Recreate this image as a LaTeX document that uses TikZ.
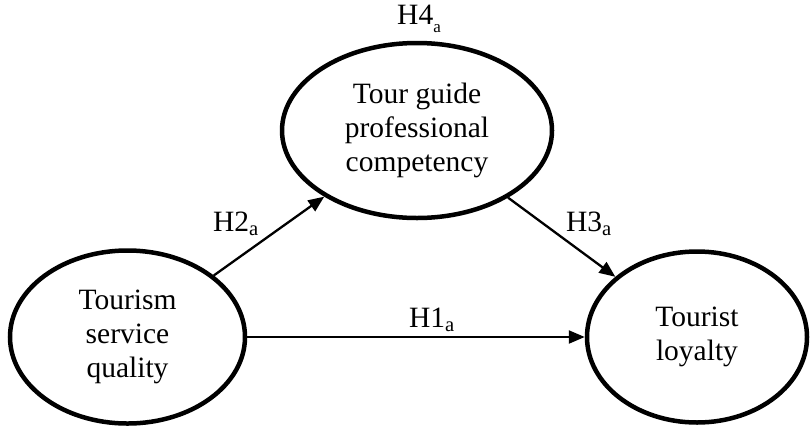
\documentclass[tikz,border=0pt]{standalone}
\usepackage{fontspec}
\setmainfont{Liberation Serif}
\usetikzlibrary{shapes.geometric,arrows.meta}
\newcommand\hsub[1]{\textsubscript{#1}}
\begin{document}
\begin{tikzpicture}[x=1pt,y=-1pt,
  construct/.style={ellipse,draw,line width=4.5pt,inner sep=0pt,align=center,
    font=\fontsize{29.5}{34}\selectfont},
  path/.style={line width=2.3pt,-{Triangle[length=16pt,width=13pt]}},
  hlabel/.style={font=\fontsize{29.5}{34}\selectfont,inner sep=0pt}]
\useasboundingbox (0,0) rectangle (810,426);
\node[construct,minimum width=235pt,minimum height=173pt] (tsq) at (127.5,337) {Tourism\\service\\quality};
\node[construct,minimum width=270pt,minimum height=175pt] (tgpc) at (417,130.5) {Tour guide\\professional\\competency};
\node[construct,minimum width=220pt,minimum height=171pt] (tl) at (697,337) {Tourist\\loyalty};
\draw[path] (tsq) -- (tgpc);
\draw[path] (tgpc) -- (tl);
\draw[path] (tsq.east) -- (tl.west);
\node[hlabel] (h1) at (432,320) {H1\hsub{a}};
\node[hlabel] (h2) at (236,224) {H2\hsub{a}};
\node[hlabel] (h3) at (589,224) {H3\hsub{a}};
\node[hlabel] (h4) at (419,19) {H4\raisebox{-0.55ex}{\fontsize{17}{17}\selectfont a}};
\end{tikzpicture}
\end{document}
